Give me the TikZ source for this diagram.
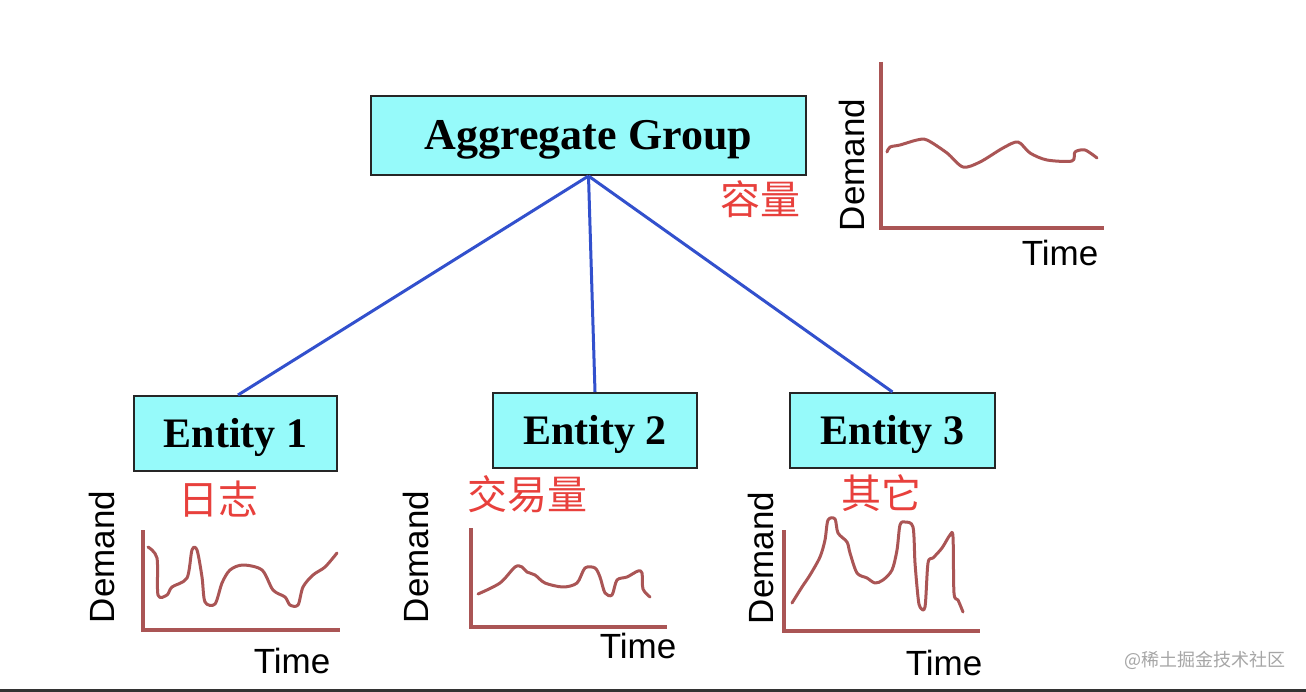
\documentclass[tikz,border=0pt]{standalone}
\usepackage{fontspec}
\setmainfont{Liberation Serif}
\setsansfont{Liberation Sans}
\newfontfamily\cjk{Noto Sans CJK SC}
\usepackage{tikz}
\usetikzlibrary{positioning,calc}
\usepackage{xcolor}
\definecolor{boxcyan}{RGB}{150,250,250}
\definecolor{linkblue}{RGB}{50,80,205}
\definecolor{chartred}{RGB}{170,85,85}
\definecolor{labelred}{RGB}{232,64,60}
\tikzset{
    groupbox/.style={
        rectangle,
        draw=black!85,
        line width=2pt,
        fill=boxcyan,
        text centered,
        text height=29pt,
        text depth=0pt,
        font=\fontsize{44}{50}\selectfont\bfseries
    },
    entitybox/.style={
        groupbox,
        minimum width=204,
        minimum height=75,
        text height=28pt,
        font=\fontsize{42}{48}\selectfont\bfseries
    },
    link/.style={
        linkblue,
        line width=3pt
    },
    axisline/.style={
        chartred,
        line width=3.4pt
    },
    demandcurve/.style={
        chartred,
        line width=3pt,
        line join=round,
        line cap=round
    },
    axislabel/.style={
        font=\sffamily\fontsize{35}{40}\selectfont
    },
    cnlabel/.style={
        labelred,
        font=\cjk\fontsize{40}{46}\selectfont
    }
}
\begin{document}
\begin{tikzpicture}[x=1pt,y=-1pt]
        % Frame of the picture
        \useasboundingbox (0,0) rectangle (1306,692);
        \fill[white] (0,0) rectangle (1306,692);
        \fill[black!80] (0,689) rectangle (1306,692);

        % Group node
        \node[groupbox, minimum width=435, minimum height=79] (group) at (588.5,135.5) {Aggregate Group};

        % Entity nodes
        \node[entitybox, minimum width=203] (ent1) at (235.5,433.5) {Entity 1};
        \node[entitybox] (ent2) at (595,430.5) {Entity 2};
        \node[entitybox, minimum width=205] (ent3) at (892.5,430.5) {Entity 3};

        % Connections
        \draw[link] (group.south) -- ($(ent1.north)+(2.5,0)$);
        \draw[link] (group.south) -- (ent2.north);
        \draw[link] (group.south) -- (ent3.north);

        % Chinese labels
        \node[cnlabel] (capacity) at (760,199) {容量};
        \node[cnlabel] (logs) at (218,499) {日志};
        \node[cnlabel] (trades) at (527,494) {交易量};
        \node[cnlabel] (others) at (881,493) {其它};

        % Chart of the group
        \draw[axisline] (881,62) |- (1104,228);
        \draw[demandcurve] plot[smooth, tension=0.5] coordinates {
            (887,152) (890,147) (900,145) (917,140) (927,140) (947,153)
            (963,167) (980,162) (1003,148) (1018,142) (1030,153) (1047,160)
            (1072,161) (1075,152) (1085,150) (1097,158)};
        \node[axislabel, rotate=90] (dem0) at (852,165) {Demand};
        \node[axislabel] (time0) at (1060,253) {Time};

        % Chart of entity 1
        \draw[axisline] (143,530) |- (340,630);
        \draw[demandcurve] plot[smooth, tension=0.5] coordinates {
            (148,547) (157,558) (158,595) (167,595) (172,587) (187,578)
            (192,550) (197,550) (202,577) (205,602) (215,604) (222,583)
            (230,570) (243,565) (262,570) (273,590) (285,597) (290,605)
            (298,605) (303,587) (313,575) (325,567) (337,553)};
        \node[axislabel, rotate=90] (dem1) at (102,557) {Demand};
        \node[axislabel] (time1) at (292,661) {Time};

        % Chart of entity 2
        \draw[axisline] (471,528) |- (667,627);
        \draw[demandcurve] plot[smooth, tension=0.5] coordinates {
            (478,594) (500,583) (515,567) (522,567) (527,572) (535,575)
            (545,583) (563,587) (577,583) (585,568) (595,568) (600,577)
            (605,593) (612,595) (617,580) (627,577) (638,571) (642,573)
            (643,589) (650,597)};
        \node[axislabel, rotate=90] (dem2) at (416,557) {Demand};
        \node[axislabel] (time2) at (638,646) {Time};

        % Chart of entity 3
        \draw[axisline] (784,530) |- (980,631);
        \draw[demandcurve] plot[smooth, tension=0.5] coordinates {
            (792,603) (802,587) (810,575) (820,557) (825,540) (828,520)
            (835,519) (838,533) (847,542) (850,553) (857,573) (867,578)
            (875,583) (883,580) (892,570) (897,550) (900,525) (905,522)
            (913,527) (915,563) (918,597) (920,607) (925,607) (928,563)
            (933,558) (942,548) (950,535) (953,537) (954,593) (958,600)
            (963,612)};
        \node[axislabel, rotate=90] (dem3) at (761,558) {Demand};
        \node[axislabel] (time3) at (944,663) {Time};

        % Site mark
        \node[black!35, font=\cjk\fontsize{18}{20}\selectfont] (site) at (1205,660) {@稀土掘金技术社区};
\end{tikzpicture}
\end{document}
